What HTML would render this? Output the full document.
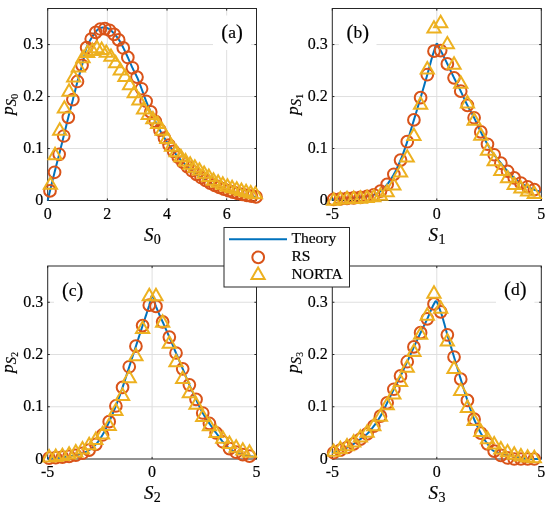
<!DOCTYPE html>
<html><head><meta charset="utf-8"><style>
html,body{margin:0;padding:0;background:#fff;width:550px;height:509px;overflow:hidden;}
svg{display:block;font-family:"Liberation Serif",serif;will-change:transform;}
text{stroke:#000;stroke-width:0.18px;paint-order:stroke;}
</style></head><body>
<svg width="550" height="509" viewBox="0 0 550 509" font-family="Liberation Serif, serif" fill="#000"><line x1="107.36" y1="8.5" x2="107.36" y2="200.5" stroke="#dfdfdf" stroke-width="1"/>
<line x1="167.01" y1="8.5" x2="167.01" y2="200.5" stroke="#dfdfdf" stroke-width="1"/>
<line x1="226.67" y1="8.5" x2="226.67" y2="200.5" stroke="#dfdfdf" stroke-width="1"/>
<line x1="47.7" y1="148.52" x2="256.5" y2="148.52" stroke="#dfdfdf" stroke-width="1"/>
<line x1="47.7" y1="96.55" x2="256.5" y2="96.55" stroke="#dfdfdf" stroke-width="1"/>
<line x1="47.7" y1="44.57" x2="256.5" y2="44.57" stroke="#dfdfdf" stroke-width="1"/>
<line x1="47.70" y1="200.5" x2="47.70" y2="198.4" stroke="#262626" stroke-width="1"/>
<line x1="47.70" y1="8.5" x2="47.70" y2="10.6" stroke="#262626" stroke-width="1"/>
<line x1="107.36" y1="200.5" x2="107.36" y2="198.4" stroke="#262626" stroke-width="1"/>
<line x1="107.36" y1="8.5" x2="107.36" y2="10.6" stroke="#262626" stroke-width="1"/>
<line x1="167.01" y1="200.5" x2="167.01" y2="198.4" stroke="#262626" stroke-width="1"/>
<line x1="167.01" y1="8.5" x2="167.01" y2="10.6" stroke="#262626" stroke-width="1"/>
<line x1="226.67" y1="200.5" x2="226.67" y2="198.4" stroke="#262626" stroke-width="1"/>
<line x1="226.67" y1="8.5" x2="226.67" y2="10.6" stroke="#262626" stroke-width="1"/>
<line x1="47.7" y1="200.50" x2="49.800000000000004" y2="200.50" stroke="#262626" stroke-width="1"/>
<line x1="256.5" y1="200.50" x2="254.4" y2="200.50" stroke="#262626" stroke-width="1"/>
<line x1="47.7" y1="148.52" x2="49.800000000000004" y2="148.52" stroke="#262626" stroke-width="1"/>
<line x1="256.5" y1="148.52" x2="254.4" y2="148.52" stroke="#262626" stroke-width="1"/>
<line x1="47.7" y1="96.55" x2="49.800000000000004" y2="96.55" stroke="#262626" stroke-width="1"/>
<line x1="256.5" y1="96.55" x2="254.4" y2="96.55" stroke="#262626" stroke-width="1"/>
<line x1="47.7" y1="44.57" x2="49.800000000000004" y2="44.57" stroke="#262626" stroke-width="1"/>
<line x1="256.5" y1="44.57" x2="254.4" y2="44.57" stroke="#262626" stroke-width="1"/>
<rect x="47.7" y="8.5" width="208.80" height="192.00" fill="none" stroke="#262626" stroke-width="1"/>
<path d="M47.70,200.50L48.22,198.29L48.75,196.09L49.27,193.90L49.79,191.73L50.32,189.56L50.84,187.41L51.36,185.26L51.89,183.13L52.41,181.00L52.93,178.87L53.46,176.76L53.98,174.65L54.50,172.56L55.03,170.48L55.55,168.41L56.07,166.36L56.60,164.31L57.12,162.27L57.64,160.23L58.17,158.18L58.69,156.13L59.21,154.06L59.74,151.99L60.26,149.91L60.78,147.82L61.31,145.73L61.83,143.64L62.35,141.54L62.88,139.44L63.40,137.33L63.92,135.22L64.45,133.09L64.97,130.95L65.49,128.80L66.02,126.65L66.54,124.51L67.06,122.37L67.59,120.25L68.11,118.14L68.63,116.07L69.16,114.02L69.68,111.99L70.20,109.97L70.73,107.96L71.25,105.96L71.77,103.95L72.30,101.92L72.82,99.89L73.34,97.82L73.87,95.73L74.39,93.63L74.91,91.51L75.44,89.41L75.96,87.32L76.48,85.25L77.01,83.23L77.53,81.25L78.05,79.34L78.58,77.48L79.10,75.65L79.62,73.85L80.15,72.05L80.67,70.24L81.19,68.40L81.72,66.53L82.24,64.58L82.76,62.49L83.28,60.28L83.81,58.01L84.33,55.74L84.85,53.55L85.38,51.48L85.90,49.60L86.42,47.98L86.95,46.62L87.47,45.40L87.99,44.28L88.52,43.24L89.04,42.27L89.56,41.34L90.09,40.45L90.61,39.57L91.13,38.69L91.66,37.79L92.18,36.89L92.70,36.00L93.23,35.13L93.75,34.29L94.27,33.50L94.80,32.76L95.32,32.10L95.84,31.51L96.37,30.96L96.89,30.41L97.41,29.88L97.94,29.39L98.46,28.94L98.98,28.55L99.51,28.24L100.03,28.02L100.55,27.90L101.08,27.80L101.60,27.71L102.12,27.63L102.65,27.56L103.17,27.51L103.69,27.46L104.22,27.43L104.74,27.42L105.26,27.43L105.79,27.51L106.31,27.64L106.83,27.82L107.36,28.05L107.88,28.30L108.40,28.58L108.93,28.86L109.45,29.16L109.97,29.48L110.50,29.88L111.02,30.33L111.54,30.84L112.07,31.39L112.59,31.97L113.11,32.55L113.64,33.14L114.16,33.72L114.68,34.30L115.21,34.90L115.73,35.51L116.25,36.14L116.78,36.79L117.30,37.47L117.82,38.18L118.35,38.91L118.87,39.69L119.39,40.51L119.92,41.39L120.44,42.31L120.96,43.27L121.49,44.25L122.01,45.26L122.53,46.27L123.06,47.30L123.58,48.33L124.10,49.39L124.63,50.47L125.15,51.58L125.67,52.71L126.20,53.84L126.72,54.99L127.24,56.14L127.77,57.29L128.29,58.45L128.81,59.64L129.34,60.84L129.86,62.05L130.38,63.25L130.91,64.46L131.43,65.64L131.95,66.81L132.48,67.94L133.00,69.03L133.52,70.08L134.05,71.10L134.57,72.11L135.09,73.13L135.62,74.16L136.14,75.22L136.66,76.32L137.19,77.47L137.71,78.69L138.23,79.97L138.76,81.29L139.28,82.65L139.80,84.03L140.33,85.43L140.85,86.83L141.37,88.23L141.90,89.62L142.42,91.05L142.94,92.51L143.47,93.98L143.99,95.44L144.51,96.90L145.04,98.33L145.56,99.71L146.08,101.04L146.61,102.33L147.13,103.60L147.65,104.85L148.18,106.09L148.70,107.31L149.22,108.51L149.75,109.70L150.27,110.87L150.79,112.03L151.32,113.18L151.84,114.30L152.36,115.42L152.88,116.52L153.41,117.60L153.93,118.67L154.45,119.73L154.98,120.77L155.50,121.80L156.02,122.82L156.55,123.84L157.07,124.85L157.59,125.85L158.12,126.84L158.64,127.82L159.16,128.79L159.69,129.76L160.21,130.71L160.73,131.65L161.26,132.59L161.78,133.51L162.30,134.42L162.83,135.31L163.35,136.20L163.87,137.07L164.40,137.93L164.92,138.78L165.44,139.61L165.97,140.43L166.49,141.24L167.01,142.03L167.54,142.81L168.06,143.58L168.58,144.34L169.11,145.10L169.63,145.85L170.15,146.60L170.68,147.33L171.20,148.06L171.72,148.78L172.25,149.49L172.77,150.20L173.29,150.90L173.82,151.59L174.34,152.27L174.86,152.94L175.39,153.61L175.91,154.26L176.43,154.91L176.96,155.55L177.48,156.19L178.00,156.81L178.53,157.42L179.05,158.03L179.57,158.63L180.10,159.22L180.62,159.80L181.14,160.37L181.67,160.93L182.19,161.48L182.71,162.03L183.24,162.57L183.76,163.10L184.28,163.63L184.81,164.16L185.33,164.67L185.85,165.19L186.38,165.69L186.90,166.19L187.42,166.69L187.95,167.17L188.47,167.66L188.99,168.13L189.52,168.60L190.04,169.07L190.56,169.53L191.09,169.98L191.61,170.43L192.13,170.87L192.66,171.30L193.18,171.73L193.70,172.15L194.23,172.57L194.75,172.98L195.27,173.39L195.80,173.78L196.32,174.18L196.84,174.56L197.37,174.95L197.89,175.32L198.41,175.70L198.94,176.07L199.46,176.43L199.98,176.79L200.51,177.15L201.03,177.50L201.55,177.85L202.08,178.20L202.60,178.54L203.12,178.88L203.65,179.21L204.17,179.54L204.69,179.86L205.22,180.18L205.74,180.50L206.26,180.81L206.79,181.12L207.31,181.42L207.83,181.72L208.36,182.01L208.88,182.30L209.40,182.59L209.93,182.87L210.45,183.14L210.97,183.42L211.50,183.68L212.02,183.95L212.54,184.21L213.07,184.46L213.59,184.72L214.11,184.97L214.64,185.22L215.16,185.46L215.68,185.71L216.21,185.95L216.73,186.18L217.25,186.42L217.78,186.65L218.30,186.88L218.82,187.10L219.35,187.33L219.87,187.54L220.39,187.76L220.92,187.97L221.44,188.18L221.96,188.39L222.48,188.59L223.01,188.79L223.53,188.99L224.05,189.18L224.58,189.38L225.10,189.56L225.62,189.75L226.15,189.93L226.67,190.10L227.19,190.28L227.72,190.45L228.24,190.62L228.76,190.79L229.29,190.96L229.81,191.12L230.33,191.28L230.86,191.45L231.38,191.60L231.90,191.76L232.43,191.91L232.95,192.07L233.47,192.22L234.00,192.36L234.52,192.51L235.04,192.65L235.57,192.79L236.09,192.93L236.61,193.07L237.14,193.21L237.66,193.34L238.18,193.47L238.71,193.60L239.23,193.72L239.75,193.85L240.28,193.97L240.80,194.09L241.32,194.21L241.85,194.32L242.37,194.43L242.89,194.55L243.42,194.66L243.94,194.77L244.46,194.88L244.99,194.99L245.51,195.09L246.03,195.20L246.56,195.30L247.08,195.41L247.60,195.51L248.13,195.61L248.65,195.70L249.17,195.80L249.70,195.90L250.22,195.99L250.74,196.08L251.27,196.17L251.79,196.26L252.31,196.35L252.84,196.43L253.36,196.51L253.88,196.59L254.41,196.67L254.93,196.75L255.45,196.82L255.98,196.90L256.50,196.97" fill="none" stroke="#0072bd" stroke-width="2" stroke-linejoin="round"/>
<circle cx="50.00" cy="190.88" r="5.85" fill="none" stroke="#d95319" stroke-width="2.0"/>
<circle cx="54.58" cy="172.28" r="5.85" fill="none" stroke="#d95319" stroke-width="2.0"/>
<circle cx="59.15" cy="154.29" r="5.85" fill="none" stroke="#d95319" stroke-width="2.0"/>
<circle cx="63.73" cy="136.00" r="5.85" fill="none" stroke="#d95319" stroke-width="2.0"/>
<circle cx="68.31" cy="117.34" r="5.85" fill="none" stroke="#d95319" stroke-width="2.0"/>
<circle cx="72.89" cy="99.61" r="5.85" fill="none" stroke="#d95319" stroke-width="2.0"/>
<circle cx="77.47" cy="81.47" r="5.85" fill="none" stroke="#d95319" stroke-width="2.0"/>
<circle cx="82.05" cy="65.31" r="5.85" fill="none" stroke="#d95319" stroke-width="2.0"/>
<circle cx="86.63" cy="47.69" r="5.85" fill="none" stroke="#d95319" stroke-width="2.0"/>
<circle cx="91.20" cy="39.11" r="5.85" fill="none" stroke="#d95319" stroke-width="2.0"/>
<circle cx="95.78" cy="32.36" r="5.85" fill="none" stroke="#d95319" stroke-width="2.0"/>
<circle cx="100.36" cy="28.98" r="5.85" fill="none" stroke="#d95319" stroke-width="2.0"/>
<circle cx="104.94" cy="28.72" r="5.85" fill="none" stroke="#d95319" stroke-width="2.0"/>
<circle cx="109.52" cy="30.23" r="5.85" fill="none" stroke="#d95319" stroke-width="2.0"/>
<circle cx="114.10" cy="34.44" r="5.85" fill="none" stroke="#d95319" stroke-width="2.0"/>
<circle cx="118.68" cy="39.89" r="5.85" fill="none" stroke="#d95319" stroke-width="2.0"/>
<circle cx="123.26" cy="47.95" r="5.85" fill="none" stroke="#d95319" stroke-width="2.0"/>
<circle cx="127.83" cy="57.46" r="5.85" fill="none" stroke="#d95319" stroke-width="2.0"/>
<circle cx="132.41" cy="67.80" r="5.85" fill="none" stroke="#d95319" stroke-width="2.0"/>
<circle cx="136.99" cy="77.06" r="5.85" fill="none" stroke="#d95319" stroke-width="2.0"/>
<circle cx="141.57" cy="88.75" r="5.85" fill="none" stroke="#d95319" stroke-width="2.0"/>
<circle cx="146.15" cy="101.23" r="5.85" fill="none" stroke="#d95319" stroke-width="2.0"/>
<circle cx="150.73" cy="111.88" r="5.85" fill="none" stroke="#d95319" stroke-width="2.0"/>
<circle cx="155.31" cy="121.39" r="5.85" fill="none" stroke="#d95319" stroke-width="2.0"/>
<circle cx="159.89" cy="130.12" r="5.85" fill="none" stroke="#d95319" stroke-width="2.0"/>
<circle cx="164.46" cy="138.02" r="5.85" fill="none" stroke="#d95319" stroke-width="2.0"/>
<circle cx="169.04" cy="144.99" r="5.85" fill="none" stroke="#d95319" stroke-width="2.0"/>
<circle cx="173.62" cy="151.33" r="5.85" fill="none" stroke="#d95319" stroke-width="2.0"/>
<circle cx="178.20" cy="157.05" r="5.85" fill="none" stroke="#d95319" stroke-width="2.0"/>
<circle cx="182.78" cy="162.09" r="5.85" fill="none" stroke="#d95319" stroke-width="2.0"/>
<circle cx="187.36" cy="166.61" r="5.85" fill="none" stroke="#d95319" stroke-width="2.0"/>
<circle cx="191.94" cy="170.72" r="5.85" fill="none" stroke="#d95319" stroke-width="2.0"/>
<circle cx="196.51" cy="174.30" r="5.85" fill="none" stroke="#d95319" stroke-width="2.0"/>
<circle cx="201.09" cy="177.53" r="5.85" fill="none" stroke="#d95319" stroke-width="2.0"/>
<circle cx="205.67" cy="180.44" r="5.85" fill="none" stroke="#d95319" stroke-width="2.0"/>
<circle cx="210.25" cy="183.04" r="5.85" fill="none" stroke="#d95319" stroke-width="2.0"/>
<circle cx="214.83" cy="185.32" r="5.85" fill="none" stroke="#d95319" stroke-width="2.0"/>
<circle cx="219.41" cy="187.35" r="5.85" fill="none" stroke="#d95319" stroke-width="2.0"/>
<circle cx="223.99" cy="189.17" r="5.85" fill="none" stroke="#d95319" stroke-width="2.0"/>
<circle cx="228.57" cy="190.73" r="5.85" fill="none" stroke="#d95319" stroke-width="2.0"/>
<circle cx="233.14" cy="192.13" r="5.85" fill="none" stroke="#d95319" stroke-width="2.0"/>
<circle cx="237.72" cy="193.38" r="5.85" fill="none" stroke="#d95319" stroke-width="2.0"/>
<circle cx="242.30" cy="194.42" r="5.85" fill="none" stroke="#d95319" stroke-width="2.0"/>
<circle cx="246.88" cy="195.35" r="5.85" fill="none" stroke="#d95319" stroke-width="2.0"/>
<circle cx="251.46" cy="196.19" r="5.85" fill="none" stroke="#d95319" stroke-width="2.0"/>
<circle cx="256.04" cy="196.91" r="5.85" fill="none" stroke="#d95319" stroke-width="2.0"/>
<path d="M50.40,177.42L57.00,188.86L43.80,188.86Z" fill="none" stroke="#edb120" stroke-width="2.0" stroke-linejoin="miter"/>
<path d="M55.06,147.69L61.66,159.13L48.46,159.13Z" fill="none" stroke="#edb120" stroke-width="2.0" stroke-linejoin="miter"/>
<path d="M59.72,123.32L66.32,134.75L53.12,134.75Z" fill="none" stroke="#edb120" stroke-width="2.0" stroke-linejoin="miter"/>
<path d="M64.38,101.18L70.98,112.61L57.78,112.61Z" fill="none" stroke="#edb120" stroke-width="2.0" stroke-linejoin="miter"/>
<path d="M69.04,84.34L75.64,95.77L62.44,95.77Z" fill="none" stroke="#edb120" stroke-width="2.0" stroke-linejoin="miter"/>
<path d="M73.70,70.09L80.30,81.52L67.10,81.52Z" fill="none" stroke="#edb120" stroke-width="2.0" stroke-linejoin="miter"/>
<path d="M78.35,60.17L84.95,71.60L71.75,71.60Z" fill="none" stroke="#edb120" stroke-width="2.0" stroke-linejoin="miter"/>
<path d="M83.01,50.81L89.61,62.24L76.41,62.24Z" fill="none" stroke="#edb120" stroke-width="2.0" stroke-linejoin="miter"/>
<path d="M87.67,45.61L94.27,57.04L81.07,57.04Z" fill="none" stroke="#edb120" stroke-width="2.0" stroke-linejoin="miter"/>
<path d="M92.33,43.53L98.93,54.96L85.73,54.96Z" fill="none" stroke="#edb120" stroke-width="2.0" stroke-linejoin="miter"/>
<path d="M96.99,40.93L103.59,52.37L90.39,52.37Z" fill="none" stroke="#edb120" stroke-width="2.0" stroke-linejoin="miter"/>
<path d="M101.65,42.49L108.25,53.93L95.05,53.93Z" fill="none" stroke="#edb120" stroke-width="2.0" stroke-linejoin="miter"/>
<path d="M106.31,45.40L112.91,56.84L99.71,56.84Z" fill="none" stroke="#edb120" stroke-width="2.0" stroke-linejoin="miter"/>
<path d="M110.97,49.41L117.57,60.84L104.37,60.84Z" fill="none" stroke="#edb120" stroke-width="2.0" stroke-linejoin="miter"/>
<path d="M115.63,55.90L122.23,67.34L109.03,67.34Z" fill="none" stroke="#edb120" stroke-width="2.0" stroke-linejoin="miter"/>
<path d="M120.29,63.13L126.89,74.56L113.69,74.56Z" fill="none" stroke="#edb120" stroke-width="2.0" stroke-linejoin="miter"/>
<path d="M124.95,69.52L131.55,80.95L118.35,80.95Z" fill="none" stroke="#edb120" stroke-width="2.0" stroke-linejoin="miter"/>
<path d="M129.61,77.84L136.21,89.27L123.01,89.27Z" fill="none" stroke="#edb120" stroke-width="2.0" stroke-linejoin="miter"/>
<path d="M134.27,85.74L140.87,97.17L127.67,97.17Z" fill="none" stroke="#edb120" stroke-width="2.0" stroke-linejoin="miter"/>
<path d="M138.92,93.07L145.52,104.50L132.32,104.50Z" fill="none" stroke="#edb120" stroke-width="2.0" stroke-linejoin="miter"/>
<path d="M143.58,102.16L150.18,113.59L136.98,113.59Z" fill="none" stroke="#edb120" stroke-width="2.0" stroke-linejoin="miter"/>
<path d="M148.24,107.62L154.84,119.05L141.64,119.05Z" fill="none" stroke="#edb120" stroke-width="2.0" stroke-linejoin="miter"/>
<path d="M152.90,111.88L159.50,123.31L146.30,123.31Z" fill="none" stroke="#edb120" stroke-width="2.0" stroke-linejoin="miter"/>
<path d="M157.56,116.61L164.16,128.04L150.96,128.04Z" fill="none" stroke="#edb120" stroke-width="2.0" stroke-linejoin="miter"/>
<path d="M162.22,123.32L168.82,134.75L155.62,134.75Z" fill="none" stroke="#edb120" stroke-width="2.0" stroke-linejoin="miter"/>
<path d="M166.88,131.58L173.48,143.01L160.28,143.01Z" fill="none" stroke="#edb120" stroke-width="2.0" stroke-linejoin="miter"/>
<path d="M171.54,139.22L178.14,150.65L164.94,150.65Z" fill="none" stroke="#edb120" stroke-width="2.0" stroke-linejoin="miter"/>
<path d="M176.20,144.94L182.80,156.37L169.60,156.37Z" fill="none" stroke="#edb120" stroke-width="2.0" stroke-linejoin="miter"/>
<path d="M180.86,149.83L187.46,161.26L174.26,161.26Z" fill="none" stroke="#edb120" stroke-width="2.0" stroke-linejoin="miter"/>
<path d="M185.52,153.98L192.12,165.41L178.92,165.41Z" fill="none" stroke="#edb120" stroke-width="2.0" stroke-linejoin="miter"/>
<path d="M190.18,157.36L196.78,168.79L183.58,168.79Z" fill="none" stroke="#edb120" stroke-width="2.0" stroke-linejoin="miter"/>
<path d="M194.84,160.22L201.44,171.65L188.24,171.65Z" fill="none" stroke="#edb120" stroke-width="2.0" stroke-linejoin="miter"/>
<path d="M199.49,163.13L206.09,174.56L192.89,174.56Z" fill="none" stroke="#edb120" stroke-width="2.0" stroke-linejoin="miter"/>
<path d="M204.15,166.41L210.75,177.84L197.55,177.84Z" fill="none" stroke="#edb120" stroke-width="2.0" stroke-linejoin="miter"/>
<path d="M208.81,169.52L215.41,180.96L202.21,180.96Z" fill="none" stroke="#edb120" stroke-width="2.0" stroke-linejoin="miter"/>
<path d="M213.47,173.21L220.07,184.65L206.87,184.65Z" fill="none" stroke="#edb120" stroke-width="2.0" stroke-linejoin="miter"/>
<path d="M218.13,175.29L224.73,186.72L211.53,186.72Z" fill="none" stroke="#edb120" stroke-width="2.0" stroke-linejoin="miter"/>
<path d="M222.79,177.37L229.39,188.80L216.19,188.80Z" fill="none" stroke="#edb120" stroke-width="2.0" stroke-linejoin="miter"/>
<path d="M227.45,179.35L234.05,190.78L220.85,190.78Z" fill="none" stroke="#edb120" stroke-width="2.0" stroke-linejoin="miter"/>
<path d="M232.11,180.75L238.71,192.18L225.51,192.18Z" fill="none" stroke="#edb120" stroke-width="2.0" stroke-linejoin="miter"/>
<path d="M236.77,182.15L243.37,193.59L230.17,193.59Z" fill="none" stroke="#edb120" stroke-width="2.0" stroke-linejoin="miter"/>
<path d="M241.43,183.51L248.03,194.94L234.83,194.94Z" fill="none" stroke="#edb120" stroke-width="2.0" stroke-linejoin="miter"/>
<path d="M246.09,184.80L252.69,196.24L239.49,196.24Z" fill="none" stroke="#edb120" stroke-width="2.0" stroke-linejoin="miter"/>
<path d="M250.75,186.05L257.35,197.48L244.15,197.48Z" fill="none" stroke="#edb120" stroke-width="2.0" stroke-linejoin="miter"/>
<path d="M255.41,186.88L262.01,198.32L248.81,198.32Z" fill="none" stroke="#edb120" stroke-width="2.0" stroke-linejoin="miter"/>
<text x="47.70" y="218.70" font-size="16" text-anchor="middle">0</text>
<text x="107.36" y="218.70" font-size="16" text-anchor="middle">2</text>
<text x="167.01" y="218.70" font-size="16" text-anchor="middle">4</text>
<text x="226.67" y="218.70" font-size="16" text-anchor="middle">6</text>
<text x="43.20" y="205.00" font-size="16" text-anchor="end">0</text>
<text x="43.20" y="153.02" font-size="16" text-anchor="end">0.1</text>
<text x="43.20" y="101.05" font-size="16" text-anchor="end">0.2</text>
<text x="43.20" y="49.07" font-size="16" text-anchor="end">0.3</text>
<text x="143.90" y="240.50" font-size="19"><tspan font-style="italic">S</tspan><tspan font-size="14" dx="0.4" dy="3">0</tspan></text>
<text transform="translate(13.40,115.00) rotate(-90)" font-size="17.5"><tspan font-style="italic">p</tspan><tspan font-style="italic" font-size="14.5" dy="2.5">S</tspan><tspan font-size="9.5" dx="0.2" dy="2.3">0</tspan></text>
<line x1="436.80" y1="8.5" x2="436.80" y2="200.5" stroke="#dfdfdf" stroke-width="1"/>
<line x1="332.3" y1="148.52" x2="541.3" y2="148.52" stroke="#dfdfdf" stroke-width="1"/>
<line x1="332.3" y1="96.55" x2="541.3" y2="96.55" stroke="#dfdfdf" stroke-width="1"/>
<line x1="332.3" y1="44.57" x2="541.3" y2="44.57" stroke="#dfdfdf" stroke-width="1"/>
<line x1="332.30" y1="200.5" x2="332.30" y2="198.4" stroke="#262626" stroke-width="1"/>
<line x1="332.30" y1="8.5" x2="332.30" y2="10.6" stroke="#262626" stroke-width="1"/>
<line x1="436.80" y1="200.5" x2="436.80" y2="198.4" stroke="#262626" stroke-width="1"/>
<line x1="436.80" y1="8.5" x2="436.80" y2="10.6" stroke="#262626" stroke-width="1"/>
<line x1="541.30" y1="200.5" x2="541.30" y2="198.4" stroke="#262626" stroke-width="1"/>
<line x1="541.30" y1="8.5" x2="541.30" y2="10.6" stroke="#262626" stroke-width="1"/>
<line x1="332.3" y1="200.50" x2="334.40000000000003" y2="200.50" stroke="#262626" stroke-width="1"/>
<line x1="541.3" y1="200.50" x2="539.1999999999999" y2="200.50" stroke="#262626" stroke-width="1"/>
<line x1="332.3" y1="148.52" x2="334.40000000000003" y2="148.52" stroke="#262626" stroke-width="1"/>
<line x1="541.3" y1="148.52" x2="539.1999999999999" y2="148.52" stroke="#262626" stroke-width="1"/>
<line x1="332.3" y1="96.55" x2="334.40000000000003" y2="96.55" stroke="#262626" stroke-width="1"/>
<line x1="541.3" y1="96.55" x2="539.1999999999999" y2="96.55" stroke="#262626" stroke-width="1"/>
<line x1="332.3" y1="44.57" x2="334.40000000000003" y2="44.57" stroke="#262626" stroke-width="1"/>
<line x1="541.3" y1="44.57" x2="539.1999999999999" y2="44.57" stroke="#262626" stroke-width="1"/>
<rect x="332.3" y="8.5" width="209.00" height="192.00" fill="none" stroke="#262626" stroke-width="1"/>
<path d="M332.30,199.56L332.82,199.52L333.35,199.48L333.87,199.44L334.40,199.40L334.92,199.36L335.44,199.32L335.97,199.28L336.49,199.24L337.01,199.20L337.54,199.16L338.06,199.12L338.59,199.08L339.11,199.04L339.63,199.00L340.16,198.96L340.68,198.91L341.20,198.87L341.73,198.83L342.25,198.79L342.78,198.75L343.30,198.71L343.82,198.67L344.35,198.63L344.87,198.59L345.40,198.55L345.92,198.51L346.44,198.47L346.97,198.43L347.49,198.39L348.01,198.34L348.54,198.30L349.06,198.26L349.59,198.22L350.11,198.18L350.63,198.14L351.16,198.10L351.68,198.06L352.20,198.02L352.73,197.98L353.25,197.94L353.78,197.90L354.30,197.86L354.82,197.82L355.35,197.78L355.87,197.75L356.40,197.71L356.92,197.67L357.44,197.64L357.97,197.60L358.49,197.56L359.01,197.51L359.54,197.47L360.06,197.42L360.59,197.36L361.11,197.30L361.63,197.24L362.16,197.17L362.68,197.10L363.20,197.02L363.73,196.94L364.25,196.85L364.78,196.76L365.30,196.67L365.82,196.58L366.35,196.48L366.87,196.38L367.40,196.29L367.92,196.19L368.44,196.09L368.97,195.99L369.49,195.88L370.01,195.77L370.54,195.66L371.06,195.54L371.59,195.41L372.11,195.28L372.63,195.13L373.16,194.98L373.68,194.82L374.20,194.64L374.73,194.44L375.25,194.22L375.78,193.98L376.30,193.72L376.82,193.45L377.35,193.16L377.87,192.85L378.40,192.53L378.92,192.20L379.44,191.86L379.97,191.50L380.49,191.13L381.01,190.75L381.54,190.33L382.06,189.88L382.59,189.40L383.11,188.90L383.63,188.38L384.16,187.83L384.68,187.27L385.20,186.68L385.73,186.09L386.25,185.47L386.78,184.85L387.30,184.22L387.82,183.57L388.35,182.88L388.87,182.18L389.40,181.44L389.92,180.69L390.44,179.90L390.97,179.10L391.49,178.27L392.01,177.43L392.54,176.56L393.06,175.67L393.59,174.77L394.11,173.84L394.63,172.88L395.16,171.89L395.68,170.87L396.20,169.81L396.73,168.73L397.25,167.61L397.78,166.48L398.30,165.31L398.82,164.13L399.35,162.92L399.87,161.70L400.40,160.46L400.92,159.19L401.44,157.89L401.97,156.55L402.49,155.19L403.01,153.79L403.54,152.36L404.06,150.90L404.59,149.43L405.11,147.93L405.63,146.41L406.16,144.88L406.68,143.34L407.20,141.78L407.73,140.20L408.25,138.58L408.78,136.93L409.30,135.25L409.82,133.55L410.35,131.82L410.87,130.09L411.40,128.34L411.92,126.59L412.44,124.83L412.97,123.08L413.49,121.34L414.01,119.61L414.54,117.88L415.06,116.15L415.59,114.42L416.11,112.68L416.63,110.94L417.16,109.20L417.68,107.45L418.20,105.70L418.73,103.95L419.25,102.19L419.78,100.43L420.30,98.66L420.82,96.89L421.35,95.12L421.87,93.34L422.40,91.56L422.92,89.77L423.44,87.98L423.97,86.19L424.49,84.39L425.01,82.59L425.54,80.78L426.06,78.97L426.59,77.16L427.11,75.35L427.63,73.52L428.16,71.64L428.68,69.73L429.20,67.80L429.73,65.85L430.25,63.91L430.78,61.98L431.30,60.08L431.82,58.21L432.35,56.39L432.87,54.63L433.40,52.95L433.92,51.35L434.44,49.68L434.97,47.86L435.49,46.13L436.01,44.73L436.54,43.91L437.06,43.85L437.59,44.28L438.11,45.05L438.63,46.06L439.16,47.22L439.68,48.44L440.20,49.62L440.73,50.66L441.25,51.65L441.78,52.65L442.30,53.66L442.82,54.70L443.35,55.74L443.87,56.79L444.40,57.85L444.92,58.92L445.44,59.99L445.97,61.07L446.49,62.14L447.01,63.21L447.54,64.28L448.06,65.36L448.59,66.44L449.11,67.54L449.63,68.63L450.16,69.73L450.68,70.83L451.20,71.94L451.73,73.04L452.25,74.13L452.78,75.23L453.30,76.31L453.82,77.39L454.35,78.46L454.87,79.51L455.40,80.56L455.92,81.60L456.44,82.64L456.97,83.67L457.49,84.70L458.01,85.74L458.54,86.78L459.06,87.82L459.59,88.87L460.11,89.93L460.63,90.99L461.16,92.08L461.68,93.18L462.20,94.30L462.73,95.43L463.25,96.57L463.78,97.71L464.30,98.85L464.82,99.98L465.35,101.11L465.87,102.22L466.40,103.31L466.92,104.38L467.44,105.43L467.97,106.45L468.49,107.44L469.01,108.42L469.54,109.37L470.06,110.32L470.59,111.26L471.11,112.19L471.63,113.13L472.16,114.08L472.68,115.04L473.20,116.02L473.73,117.02L474.25,118.04L474.78,119.10L475.30,120.19L475.82,121.30L476.35,122.42L476.87,123.56L477.40,124.70L477.92,125.85L478.44,126.98L478.97,128.11L479.49,129.23L480.01,130.32L480.54,131.38L481.06,132.42L481.59,133.44L482.11,134.46L482.63,135.47L483.16,136.47L483.68,137.45L484.20,138.43L484.73,139.39L485.25,140.35L485.78,141.29L486.30,142.22L486.82,143.13L487.35,144.03L487.87,144.92L488.40,145.80L488.92,146.67L489.44,147.54L489.97,148.39L490.49,149.23L491.01,150.06L491.54,150.88L492.06,151.68L492.59,152.47L493.11,153.25L493.63,154.00L494.16,154.74L494.68,155.46L495.20,156.16L495.73,156.85L496.25,157.51L496.78,158.17L497.30,158.82L497.82,159.46L498.35,160.09L498.87,160.72L499.40,161.35L499.92,161.98L500.44,162.62L500.97,163.26L501.49,163.91L502.01,164.57L502.54,165.22L503.06,165.88L503.59,166.53L504.11,167.18L504.63,167.83L505.16,168.47L505.68,169.10L506.20,169.72L506.73,170.32L507.25,170.91L507.78,171.49L508.30,172.05L508.82,172.62L509.35,173.17L509.87,173.71L510.40,174.25L510.92,174.78L511.44,175.30L511.97,175.81L512.49,176.31L513.01,176.80L513.54,177.28L514.06,177.74L514.59,178.19L515.11,178.64L515.63,179.08L516.16,179.52L516.68,179.94L517.20,180.36L517.73,180.77L518.25,181.17L518.78,181.56L519.30,181.93L519.82,182.30L520.35,182.66L520.87,183.00L521.40,183.34L521.92,183.66L522.44,183.97L522.97,184.28L523.49,184.58L524.01,184.87L524.54,185.15L525.06,185.43L525.59,185.71L526.11,185.98L526.63,186.24L527.16,186.50L527.68,186.76L528.20,187.02L528.73,187.27L529.25,187.52L529.78,187.77L530.30,188.01L530.82,188.25L531.35,188.48L531.87,188.71L532.40,188.93L532.92,189.15L533.44,189.36L533.97,189.56L534.49,189.76L535.01,189.95L535.54,190.14L536.06,190.32L536.59,190.51L537.11,190.68L537.63,190.85L538.16,191.02L538.68,191.18L539.20,191.34L539.73,191.50L540.25,191.64L540.78,191.79L541.30,191.92" fill="none" stroke="#0072bd" stroke-width="2" stroke-linejoin="round"/>
<circle cx="333.66" cy="199.46" r="5.85" fill="none" stroke="#d95319" stroke-width="2.0"/>
<circle cx="340.35" cy="198.94" r="5.85" fill="none" stroke="#d95319" stroke-width="2.0"/>
<circle cx="347.03" cy="198.42" r="5.85" fill="none" stroke="#d95319" stroke-width="2.0"/>
<circle cx="353.72" cy="197.90" r="5.85" fill="none" stroke="#d95319" stroke-width="2.0"/>
<circle cx="360.41" cy="197.38" r="5.85" fill="none" stroke="#d95319" stroke-width="2.0"/>
<circle cx="367.10" cy="196.34" r="5.85" fill="none" stroke="#d95319" stroke-width="2.0"/>
<circle cx="373.79" cy="194.78" r="5.85" fill="none" stroke="#d95319" stroke-width="2.0"/>
<circle cx="380.47" cy="191.14" r="5.85" fill="none" stroke="#d95319" stroke-width="2.0"/>
<circle cx="387.16" cy="184.39" r="5.85" fill="none" stroke="#d95319" stroke-width="2.0"/>
<circle cx="393.85" cy="174.30" r="5.85" fill="none" stroke="#d95319" stroke-width="2.0"/>
<circle cx="400.54" cy="160.11" r="5.85" fill="none" stroke="#d95319" stroke-width="2.0"/>
<circle cx="407.23" cy="141.71" r="5.85" fill="none" stroke="#d95319" stroke-width="2.0"/>
<circle cx="413.91" cy="119.94" r="5.85" fill="none" stroke="#d95319" stroke-width="2.0"/>
<circle cx="420.60" cy="97.64" r="5.85" fill="none" stroke="#d95319" stroke-width="2.0"/>
<circle cx="427.29" cy="74.72" r="5.85" fill="none" stroke="#d95319" stroke-width="2.0"/>
<circle cx="433.98" cy="51.17" r="5.85" fill="none" stroke="#d95319" stroke-width="2.0"/>
<circle cx="440.67" cy="50.55" r="5.85" fill="none" stroke="#d95319" stroke-width="2.0"/>
<circle cx="447.35" cy="63.91" r="5.85" fill="none" stroke="#d95319" stroke-width="2.0"/>
<circle cx="454.04" cy="77.84" r="5.85" fill="none" stroke="#d95319" stroke-width="2.0"/>
<circle cx="460.73" cy="91.19" r="5.85" fill="none" stroke="#d95319" stroke-width="2.0"/>
<circle cx="467.42" cy="105.38" r="5.85" fill="none" stroke="#d95319" stroke-width="2.0"/>
<circle cx="474.11" cy="117.75" r="5.85" fill="none" stroke="#d95319" stroke-width="2.0"/>
<circle cx="480.79" cy="131.89" r="5.85" fill="none" stroke="#d95319" stroke-width="2.0"/>
<circle cx="487.48" cy="144.26" r="5.85" fill="none" stroke="#d95319" stroke-width="2.0"/>
<circle cx="494.17" cy="154.76" r="5.85" fill="none" stroke="#d95319" stroke-width="2.0"/>
<circle cx="500.86" cy="163.13" r="5.85" fill="none" stroke="#d95319" stroke-width="2.0"/>
<circle cx="507.55" cy="171.24" r="5.85" fill="none" stroke="#d95319" stroke-width="2.0"/>
<circle cx="514.23" cy="177.89" r="5.85" fill="none" stroke="#d95319" stroke-width="2.0"/>
<circle cx="520.92" cy="183.04" r="5.85" fill="none" stroke="#d95319" stroke-width="2.0"/>
<circle cx="527.61" cy="186.73" r="5.85" fill="none" stroke="#d95319" stroke-width="2.0"/>
<circle cx="534.30" cy="189.69" r="5.85" fill="none" stroke="#d95319" stroke-width="2.0"/>
<path d="M333.66,193.23L340.26,204.66L327.06,204.66Z" fill="none" stroke="#edb120" stroke-width="2.0" stroke-linejoin="miter"/>
<path d="M340.35,192.08L346.95,203.51L333.75,203.51Z" fill="none" stroke="#edb120" stroke-width="2.0" stroke-linejoin="miter"/>
<path d="M347.03,191.72L353.63,203.15L340.43,203.15Z" fill="none" stroke="#edb120" stroke-width="2.0" stroke-linejoin="miter"/>
<path d="M353.72,191.51L360.32,202.94L347.12,202.94Z" fill="none" stroke="#edb120" stroke-width="2.0" stroke-linejoin="miter"/>
<path d="M360.41,191.30L367.01,202.73L353.81,202.73Z" fill="none" stroke="#edb120" stroke-width="2.0" stroke-linejoin="miter"/>
<path d="M367.10,190.63L373.70,202.06L360.50,202.06Z" fill="none" stroke="#edb120" stroke-width="2.0" stroke-linejoin="miter"/>
<path d="M373.79,189.90L380.39,201.33L367.19,201.33Z" fill="none" stroke="#edb120" stroke-width="2.0" stroke-linejoin="miter"/>
<path d="M380.47,188.24L387.07,199.67L373.87,199.67Z" fill="none" stroke="#edb120" stroke-width="2.0" stroke-linejoin="miter"/>
<path d="M387.16,184.91L393.76,196.34L380.56,196.34Z" fill="none" stroke="#edb120" stroke-width="2.0" stroke-linejoin="miter"/>
<path d="M393.85,178.15L400.45,189.58L387.25,189.58Z" fill="none" stroke="#edb120" stroke-width="2.0" stroke-linejoin="miter"/>
<path d="M400.54,165.16L407.14,176.59L393.94,176.59Z" fill="none" stroke="#edb120" stroke-width="2.0" stroke-linejoin="miter"/>
<path d="M407.23,150.19L413.83,161.62L400.63,161.62Z" fill="none" stroke="#edb120" stroke-width="2.0" stroke-linejoin="miter"/>
<path d="M413.91,128.46L420.51,139.89L407.31,139.89Z" fill="none" stroke="#edb120" stroke-width="2.0" stroke-linejoin="miter"/>
<path d="M420.60,97.33L427.20,108.76L414.00,108.76Z" fill="none" stroke="#edb120" stroke-width="2.0" stroke-linejoin="miter"/>
<path d="M427.29,61.99L433.89,73.42L420.69,73.42Z" fill="none" stroke="#edb120" stroke-width="2.0" stroke-linejoin="miter"/>
<path d="M433.98,21.18L440.58,32.62L427.38,32.62Z" fill="none" stroke="#edb120" stroke-width="2.0" stroke-linejoin="miter"/>
<path d="M440.67,15.73L447.27,27.16L434.07,27.16Z" fill="none" stroke="#edb120" stroke-width="2.0" stroke-linejoin="miter"/>
<path d="M447.35,36.93L453.95,48.36L440.75,48.36Z" fill="none" stroke="#edb120" stroke-width="2.0" stroke-linejoin="miter"/>
<path d="M454.04,57.36L460.64,68.79L447.44,68.79Z" fill="none" stroke="#edb120" stroke-width="2.0" stroke-linejoin="miter"/>
<path d="M460.73,76.23L467.33,87.66L454.13,87.66Z" fill="none" stroke="#edb120" stroke-width="2.0" stroke-linejoin="miter"/>
<path d="M467.42,96.03L474.02,107.46L460.82,107.46Z" fill="none" stroke="#edb120" stroke-width="2.0" stroke-linejoin="miter"/>
<path d="M474.11,113.34L480.71,124.77L467.51,124.77Z" fill="none" stroke="#edb120" stroke-width="2.0" stroke-linejoin="miter"/>
<path d="M480.79,128.36L487.39,139.79L474.19,139.79Z" fill="none" stroke="#edb120" stroke-width="2.0" stroke-linejoin="miter"/>
<path d="M487.48,143.38L494.08,154.81L480.88,154.81Z" fill="none" stroke="#edb120" stroke-width="2.0" stroke-linejoin="miter"/>
<path d="M494.17,153.72L500.77,165.15L487.57,165.15Z" fill="none" stroke="#edb120" stroke-width="2.0" stroke-linejoin="miter"/>
<path d="M500.86,163.60L507.46,175.03L494.26,175.03Z" fill="none" stroke="#edb120" stroke-width="2.0" stroke-linejoin="miter"/>
<path d="M507.55,170.88L514.15,182.31L500.95,182.31Z" fill="none" stroke="#edb120" stroke-width="2.0" stroke-linejoin="miter"/>
<path d="M514.23,177.48L520.83,188.91L507.63,188.91Z" fill="none" stroke="#edb120" stroke-width="2.0" stroke-linejoin="miter"/>
<path d="M520.92,181.17L527.52,192.60L514.32,192.60Z" fill="none" stroke="#edb120" stroke-width="2.0" stroke-linejoin="miter"/>
<path d="M527.61,184.08L534.21,195.51L521.01,195.51Z" fill="none" stroke="#edb120" stroke-width="2.0" stroke-linejoin="miter"/>
<path d="M534.30,186.57L540.90,198.00L527.70,198.00Z" fill="none" stroke="#edb120" stroke-width="2.0" stroke-linejoin="miter"/>
<text x="332.30" y="218.70" font-size="16" text-anchor="middle">-5</text>
<text x="436.80" y="218.70" font-size="16" text-anchor="middle">0</text>
<text x="541.30" y="218.70" font-size="16" text-anchor="middle">5</text>
<text x="327.80" y="205.00" font-size="16" text-anchor="end">0</text>
<text x="327.80" y="153.02" font-size="16" text-anchor="end">0.1</text>
<text x="327.80" y="101.05" font-size="16" text-anchor="end">0.2</text>
<text x="327.80" y="49.07" font-size="16" text-anchor="end">0.3</text>
<text x="428.60" y="240.50" font-size="19"><tspan font-style="italic">S</tspan><tspan font-size="14" dx="0.4" dy="3">1</tspan></text>
<text transform="translate(298.00,115.00) rotate(-90)" font-size="17.5"><tspan font-style="italic">p</tspan><tspan font-style="italic" font-size="14.5" dy="2.5">S</tspan><tspan font-size="9.5" dx="0.2" dy="2.3">1</tspan></text>
<line x1="152.10" y1="266.0" x2="152.10" y2="459.0" stroke="#dfdfdf" stroke-width="1"/>
<line x1="47.7" y1="406.75" x2="256.5" y2="406.75" stroke="#dfdfdf" stroke-width="1"/>
<line x1="47.7" y1="354.51" x2="256.5" y2="354.51" stroke="#dfdfdf" stroke-width="1"/>
<line x1="47.7" y1="302.26" x2="256.5" y2="302.26" stroke="#dfdfdf" stroke-width="1"/>
<line x1="47.70" y1="459.0" x2="47.70" y2="456.9" stroke="#262626" stroke-width="1"/>
<line x1="47.70" y1="266.0" x2="47.70" y2="268.1" stroke="#262626" stroke-width="1"/>
<line x1="152.10" y1="459.0" x2="152.10" y2="456.9" stroke="#262626" stroke-width="1"/>
<line x1="152.10" y1="266.0" x2="152.10" y2="268.1" stroke="#262626" stroke-width="1"/>
<line x1="256.50" y1="459.0" x2="256.50" y2="456.9" stroke="#262626" stroke-width="1"/>
<line x1="256.50" y1="266.0" x2="256.50" y2="268.1" stroke="#262626" stroke-width="1"/>
<line x1="47.7" y1="459.00" x2="49.800000000000004" y2="459.00" stroke="#262626" stroke-width="1"/>
<line x1="256.5" y1="459.00" x2="254.4" y2="459.00" stroke="#262626" stroke-width="1"/>
<line x1="47.7" y1="406.75" x2="49.800000000000004" y2="406.75" stroke="#262626" stroke-width="1"/>
<line x1="256.5" y1="406.75" x2="254.4" y2="406.75" stroke="#262626" stroke-width="1"/>
<line x1="47.7" y1="354.51" x2="49.800000000000004" y2="354.51" stroke="#262626" stroke-width="1"/>
<line x1="256.5" y1="354.51" x2="254.4" y2="354.51" stroke="#262626" stroke-width="1"/>
<line x1="47.7" y1="302.26" x2="49.800000000000004" y2="302.26" stroke="#262626" stroke-width="1"/>
<line x1="256.5" y1="302.26" x2="254.4" y2="302.26" stroke="#262626" stroke-width="1"/>
<rect x="47.7" y="266.0" width="208.80" height="193.00" fill="none" stroke="#262626" stroke-width="1"/>
<path d="M47.70,458.22L48.22,458.17L48.75,458.13L49.27,458.10L49.79,458.06L50.32,458.03L50.84,457.99L51.36,457.96L51.89,457.93L52.41,457.90L52.93,457.87L53.46,457.84L53.98,457.81L54.50,457.78L55.03,457.74L55.55,457.71L56.07,457.67L56.60,457.63L57.12,457.60L57.64,457.56L58.17,457.52L58.69,457.48L59.21,457.44L59.74,457.40L60.26,457.36L60.78,457.32L61.31,457.27L61.83,457.23L62.35,457.18L62.88,457.13L63.40,457.08L63.92,457.02L64.45,456.97L64.97,456.91L65.49,456.85L66.02,456.79L66.54,456.72L67.06,456.66L67.59,456.59L68.11,456.52L68.63,456.45L69.16,456.38L69.68,456.31L70.20,456.23L70.73,456.15L71.25,456.07L71.77,455.99L72.30,455.90L72.82,455.81L73.34,455.72L73.87,455.63L74.39,455.53L74.91,455.42L75.44,455.31L75.96,455.20L76.48,455.08L77.01,454.95L77.53,454.82L78.05,454.68L78.58,454.53L79.10,454.38L79.62,454.22L80.15,454.05L80.67,453.88L81.19,453.70L81.72,453.52L82.24,453.33L82.76,453.14L83.28,452.95L83.81,452.74L84.33,452.53L84.85,452.31L85.38,452.08L85.90,451.84L86.42,451.60L86.95,451.34L87.47,451.07L87.99,450.78L88.52,450.49L89.04,450.18L89.56,449.86L90.09,449.51L90.61,449.14L91.13,448.74L91.66,448.33L92.18,447.89L92.70,447.44L93.23,446.97L93.75,446.48L94.27,445.97L94.80,445.44L95.32,444.91L95.84,444.35L96.37,443.78L96.89,443.17L97.41,442.52L97.94,441.85L98.46,441.15L98.98,440.42L99.51,439.67L100.03,438.89L100.55,438.09L101.08,437.28L101.60,436.45L102.12,435.60L102.65,434.74L103.17,433.84L103.69,432.91L104.22,431.94L104.74,430.94L105.26,429.91L105.79,428.86L106.31,427.78L106.83,426.69L107.36,425.58L107.88,424.47L108.40,423.34L108.93,422.21L109.45,421.08L109.97,419.94L110.50,418.78L111.02,417.61L111.54,416.42L112.07,415.21L112.59,413.99L113.11,412.76L113.64,411.51L114.16,410.24L114.68,408.95L115.21,407.65L115.73,406.33L116.25,405.00L116.78,403.63L117.30,402.25L117.82,400.84L118.35,399.42L118.87,397.97L119.39,396.51L119.92,395.04L120.44,393.55L120.96,392.04L121.49,390.53L122.01,389.01L122.53,387.49L123.06,385.94L123.58,384.38L124.10,382.79L124.63,381.19L125.15,379.57L125.67,377.94L126.20,376.30L126.72,374.66L127.24,373.01L127.77,371.37L128.29,369.73L128.81,368.10L129.34,366.48L129.86,364.86L130.38,363.24L130.91,361.62L131.43,360.01L131.95,358.39L132.48,356.77L133.00,355.15L133.52,353.54L134.05,351.92L134.57,350.31L135.09,348.69L135.62,347.08L136.14,345.47L136.66,343.85L137.19,342.24L137.71,340.63L138.23,339.02L138.76,337.42L139.28,335.81L139.80,334.20L140.33,332.59L140.85,330.99L141.37,329.38L141.90,327.77L142.42,326.17L142.94,324.57L143.47,322.98L143.99,321.40L144.51,319.82L145.04,318.25L145.56,316.68L146.08,315.11L146.61,313.52L147.13,311.92L147.65,310.31L148.18,308.67L148.70,307.01L149.22,305.33L149.75,303.38L150.27,301.05L150.79,298.72L151.32,296.78L151.84,295.63L152.36,295.57L152.88,296.32L153.41,297.64L153.93,299.35L154.45,301.29L154.98,303.26L155.50,305.09L156.02,306.60L156.55,307.92L157.07,309.20L157.59,310.45L158.12,311.68L158.64,312.88L159.16,314.07L159.69,315.24L160.21,316.40L160.73,317.56L161.26,318.73L161.78,319.90L162.30,321.08L162.83,322.27L163.35,323.47L163.87,324.65L164.40,325.84L164.92,327.02L165.44,328.20L165.97,329.38L166.49,330.57L167.01,331.75L167.54,332.94L168.06,334.14L168.58,335.34L169.11,336.55L169.63,337.77L170.15,339.00L170.68,340.23L171.20,341.47L171.72,342.72L172.25,343.97L172.77,345.23L173.29,346.49L173.82,347.74L174.34,349.00L174.86,350.26L175.39,351.51L175.91,352.76L176.43,354.01L176.96,355.25L177.48,356.49L178.00,357.74L178.53,358.98L179.05,360.22L179.57,361.47L180.10,362.71L180.62,363.95L181.14,365.20L181.67,366.44L182.19,367.69L182.71,368.93L183.24,370.18L183.76,371.44L184.28,372.70L184.81,373.97L185.33,375.23L185.85,376.50L186.38,377.76L186.90,379.01L187.42,380.26L187.95,381.50L188.47,382.73L188.99,383.94L189.52,385.14L190.04,386.33L190.56,387.51L191.09,388.68L191.61,389.84L192.13,391.00L192.66,392.15L193.18,393.29L193.70,394.42L194.23,395.55L194.75,396.67L195.27,397.79L195.80,398.90L196.32,400.00L196.84,401.11L197.37,402.23L197.89,403.34L198.41,404.45L198.94,405.56L199.46,406.65L199.98,407.73L200.51,408.79L201.03,409.83L201.55,410.85L202.08,411.83L202.60,412.78L203.12,413.70L203.65,414.60L204.17,415.47L204.69,416.32L205.22,417.15L205.74,417.97L206.26,418.77L206.79,419.57L207.31,420.35L207.83,421.13L208.36,421.91L208.88,422.68L209.40,423.45L209.93,424.22L210.45,424.99L210.97,425.74L211.50,426.49L212.02,427.23L212.54,427.97L213.07,428.70L213.59,429.43L214.11,430.15L214.64,430.87L215.16,431.59L215.68,432.31L216.21,433.02L216.73,433.75L217.25,434.47L217.78,435.20L218.30,435.93L218.82,436.65L219.35,437.37L219.87,438.08L220.39,438.78L220.92,439.47L221.44,440.14L221.96,440.79L222.48,441.42L223.01,442.02L223.53,442.63L224.05,443.23L224.58,443.83L225.10,444.41L225.62,444.99L226.15,445.55L226.67,446.10L227.19,446.62L227.72,447.12L228.24,447.58L228.76,448.02L229.29,448.43L229.81,448.80L230.33,449.15L230.86,449.49L231.38,449.81L231.90,450.12L232.43,450.41L232.95,450.70L233.47,450.97L234.00,451.23L234.52,451.48L235.04,451.72L235.57,451.96L236.09,452.19L236.61,452.41L237.14,452.62L237.66,452.83L238.18,453.03L238.71,453.23L239.23,453.42L239.75,453.60L240.28,453.78L240.80,453.95L241.32,454.11L241.85,454.27L242.37,454.43L242.89,454.58L243.42,454.73L243.94,454.87L244.46,455.01L244.99,455.15L245.51,455.29L246.03,455.42L246.56,455.54L247.08,455.67L247.60,455.78L248.13,455.89L248.65,455.98L249.17,456.07L249.70,456.16L250.22,456.23L250.74,456.31L251.27,456.38L251.79,456.46L252.31,456.52L252.84,456.59L253.36,456.65L253.88,456.71L254.41,456.76L254.93,456.80L255.45,456.85L255.98,456.88L256.50,456.91" fill="none" stroke="#0072bd" stroke-width="2" stroke-linejoin="round"/>
<circle cx="49.06" cy="458.11" r="5.85" fill="none" stroke="#d95319" stroke-width="2.0"/>
<circle cx="55.74" cy="457.69" r="5.85" fill="none" stroke="#d95319" stroke-width="2.0"/>
<circle cx="62.42" cy="457.17" r="5.85" fill="none" stroke="#d95319" stroke-width="2.0"/>
<circle cx="69.10" cy="456.39" r="5.85" fill="none" stroke="#d95319" stroke-width="2.0"/>
<circle cx="75.78" cy="455.24" r="5.85" fill="none" stroke="#d95319" stroke-width="2.0"/>
<circle cx="82.47" cy="453.25" r="5.85" fill="none" stroke="#d95319" stroke-width="2.0"/>
<circle cx="89.15" cy="450.12" r="5.85" fill="none" stroke="#d95319" stroke-width="2.0"/>
<circle cx="95.83" cy="444.37" r="5.85" fill="none" stroke="#d95319" stroke-width="2.0"/>
<circle cx="102.51" cy="434.97" r="5.85" fill="none" stroke="#d95319" stroke-width="2.0"/>
<circle cx="109.19" cy="421.64" r="5.85" fill="none" stroke="#d95319" stroke-width="2.0"/>
<circle cx="115.87" cy="405.97" r="5.85" fill="none" stroke="#d95319" stroke-width="2.0"/>
<circle cx="122.55" cy="387.42" r="5.85" fill="none" stroke="#d95319" stroke-width="2.0"/>
<circle cx="129.24" cy="366.78" r="5.85" fill="none" stroke="#d95319" stroke-width="2.0"/>
<circle cx="135.92" cy="346.15" r="5.85" fill="none" stroke="#d95319" stroke-width="2.0"/>
<circle cx="142.60" cy="325.61" r="5.85" fill="none" stroke="#d95319" stroke-width="2.0"/>
<circle cx="149.28" cy="305.13" r="5.85" fill="none" stroke="#d95319" stroke-width="2.0"/>
<circle cx="155.96" cy="306.44" r="5.85" fill="none" stroke="#d95319" stroke-width="2.0"/>
<circle cx="162.64" cy="321.85" r="5.85" fill="none" stroke="#d95319" stroke-width="2.0"/>
<circle cx="169.33" cy="337.06" r="5.85" fill="none" stroke="#d95319" stroke-width="2.0"/>
<circle cx="176.01" cy="352.99" r="5.85" fill="none" stroke="#d95319" stroke-width="2.0"/>
<circle cx="182.69" cy="368.87" r="5.85" fill="none" stroke="#d95319" stroke-width="2.0"/>
<circle cx="189.37" cy="384.81" r="5.85" fill="none" stroke="#d95319" stroke-width="2.0"/>
<circle cx="196.05" cy="399.44" r="5.85" fill="none" stroke="#d95319" stroke-width="2.0"/>
<circle cx="202.73" cy="413.02" r="5.85" fill="none" stroke="#d95319" stroke-width="2.0"/>
<circle cx="209.42" cy="423.47" r="5.85" fill="none" stroke="#d95319" stroke-width="2.0"/>
<circle cx="216.10" cy="432.88" r="5.85" fill="none" stroke="#d95319" stroke-width="2.0"/>
<circle cx="222.78" cy="441.76" r="5.85" fill="none" stroke="#d95319" stroke-width="2.0"/>
<circle cx="229.46" cy="448.55" r="5.85" fill="none" stroke="#d95319" stroke-width="2.0"/>
<circle cx="236.14" cy="452.21" r="5.85" fill="none" stroke="#d95319" stroke-width="2.0"/>
<circle cx="242.82" cy="454.56" r="5.85" fill="none" stroke="#d95319" stroke-width="2.0"/>
<circle cx="249.51" cy="456.13" r="5.85" fill="none" stroke="#d95319" stroke-width="2.0"/>
<path d="M49.06,449.99L55.66,461.42L42.46,461.42Z" fill="none" stroke="#edb120" stroke-width="2.0" stroke-linejoin="miter"/>
<path d="M55.74,449.47L62.34,460.90L49.14,460.90Z" fill="none" stroke="#edb120" stroke-width="2.0" stroke-linejoin="miter"/>
<path d="M62.42,448.69L69.02,460.12L55.82,460.12Z" fill="none" stroke="#edb120" stroke-width="2.0" stroke-linejoin="miter"/>
<path d="M69.10,447.17L75.70,458.60L62.50,458.60Z" fill="none" stroke="#edb120" stroke-width="2.0" stroke-linejoin="miter"/>
<path d="M75.78,444.98L82.38,456.41L69.18,456.41Z" fill="none" stroke="#edb120" stroke-width="2.0" stroke-linejoin="miter"/>
<path d="M82.47,441.95L89.07,453.38L75.87,453.38Z" fill="none" stroke="#edb120" stroke-width="2.0" stroke-linejoin="miter"/>
<path d="M89.15,437.77L95.75,449.20L82.55,449.20Z" fill="none" stroke="#edb120" stroke-width="2.0" stroke-linejoin="miter"/>
<path d="M95.83,432.54L102.43,443.97L89.23,443.97Z" fill="none" stroke="#edb120" stroke-width="2.0" stroke-linejoin="miter"/>
<path d="M102.51,426.95L109.11,438.38L95.91,438.38Z" fill="none" stroke="#edb120" stroke-width="2.0" stroke-linejoin="miter"/>
<path d="M109.19,418.54L115.79,429.97L102.59,429.97Z" fill="none" stroke="#edb120" stroke-width="2.0" stroke-linejoin="miter"/>
<path d="M115.87,403.65L122.47,415.08L109.27,415.08Z" fill="none" stroke="#edb120" stroke-width="2.0" stroke-linejoin="miter"/>
<path d="M122.55,388.50L129.15,399.93L115.95,399.93Z" fill="none" stroke="#edb120" stroke-width="2.0" stroke-linejoin="miter"/>
<path d="M129.24,370.73L135.84,382.17L122.64,382.17Z" fill="none" stroke="#edb120" stroke-width="2.0" stroke-linejoin="miter"/>
<path d="M135.92,348.79L142.52,360.22L129.32,360.22Z" fill="none" stroke="#edb120" stroke-width="2.0" stroke-linejoin="miter"/>
<path d="M142.60,321.62L149.20,333.05L136.00,333.05Z" fill="none" stroke="#edb120" stroke-width="2.0" stroke-linejoin="miter"/>
<path d="M149.28,288.71L155.88,300.14L142.68,300.14Z" fill="none" stroke="#edb120" stroke-width="2.0" stroke-linejoin="miter"/>
<path d="M155.96,288.71L162.56,300.14L149.36,300.14Z" fill="none" stroke="#edb120" stroke-width="2.0" stroke-linejoin="miter"/>
<path d="M162.64,315.20L169.24,326.63L156.04,326.63Z" fill="none" stroke="#edb120" stroke-width="2.0" stroke-linejoin="miter"/>
<path d="M169.33,336.20L175.93,347.63L162.73,347.63Z" fill="none" stroke="#edb120" stroke-width="2.0" stroke-linejoin="miter"/>
<path d="M176.01,354.75L182.61,366.18L169.41,366.18Z" fill="none" stroke="#edb120" stroke-width="2.0" stroke-linejoin="miter"/>
<path d="M182.69,371.57L189.29,383.00L176.09,383.00Z" fill="none" stroke="#edb120" stroke-width="2.0" stroke-linejoin="miter"/>
<path d="M189.37,385.73L195.97,397.16L182.77,397.16Z" fill="none" stroke="#edb120" stroke-width="2.0" stroke-linejoin="miter"/>
<path d="M196.05,397.38L202.65,408.81L189.45,408.81Z" fill="none" stroke="#edb120" stroke-width="2.0" stroke-linejoin="miter"/>
<path d="M202.73,409.66L209.33,421.09L196.13,421.09Z" fill="none" stroke="#edb120" stroke-width="2.0" stroke-linejoin="miter"/>
<path d="M209.42,418.80L216.02,430.23L202.82,430.23Z" fill="none" stroke="#edb120" stroke-width="2.0" stroke-linejoin="miter"/>
<path d="M216.10,425.59L222.70,437.02L209.50,437.02Z" fill="none" stroke="#edb120" stroke-width="2.0" stroke-linejoin="miter"/>
<path d="M222.78,431.34L229.38,442.77L216.18,442.77Z" fill="none" stroke="#edb120" stroke-width="2.0" stroke-linejoin="miter"/>
<path d="M229.46,436.46L236.06,447.89L222.86,447.89Z" fill="none" stroke="#edb120" stroke-width="2.0" stroke-linejoin="miter"/>
<path d="M236.14,440.33L242.74,451.76L229.54,451.76Z" fill="none" stroke="#edb120" stroke-width="2.0" stroke-linejoin="miter"/>
<path d="M242.82,443.15L249.42,454.58L236.22,454.58Z" fill="none" stroke="#edb120" stroke-width="2.0" stroke-linejoin="miter"/>
<path d="M249.51,445.29L256.11,456.72L242.91,456.72Z" fill="none" stroke="#edb120" stroke-width="2.0" stroke-linejoin="miter"/>
<text x="47.70" y="477.20" font-size="16" text-anchor="middle">-5</text>
<text x="152.10" y="477.20" font-size="16" text-anchor="middle">0</text>
<text x="256.50" y="477.20" font-size="16" text-anchor="middle">5</text>
<text x="43.20" y="463.50" font-size="16" text-anchor="end">0</text>
<text x="43.20" y="411.25" font-size="16" text-anchor="end">0.1</text>
<text x="43.20" y="359.01" font-size="16" text-anchor="end">0.2</text>
<text x="43.20" y="306.76" font-size="16" text-anchor="end">0.3</text>
<text x="143.90" y="499.00" font-size="19"><tspan font-style="italic">S</tspan><tspan font-size="14" dx="0.4" dy="3">2</tspan></text>
<text transform="translate(13.40,373.00) rotate(-90)" font-size="17.5"><tspan font-style="italic">p</tspan><tspan font-style="italic" font-size="14.5" dy="2.5">S</tspan><tspan font-size="9.5" dx="0.2" dy="2.3">2</tspan></text>
<line x1="436.80" y1="266.0" x2="436.80" y2="459.0" stroke="#dfdfdf" stroke-width="1"/>
<line x1="332.3" y1="406.75" x2="541.3" y2="406.75" stroke="#dfdfdf" stroke-width="1"/>
<line x1="332.3" y1="354.51" x2="541.3" y2="354.51" stroke="#dfdfdf" stroke-width="1"/>
<line x1="332.3" y1="302.26" x2="541.3" y2="302.26" stroke="#dfdfdf" stroke-width="1"/>
<line x1="332.30" y1="459.0" x2="332.30" y2="456.9" stroke="#262626" stroke-width="1"/>
<line x1="332.30" y1="266.0" x2="332.30" y2="268.1" stroke="#262626" stroke-width="1"/>
<line x1="436.80" y1="459.0" x2="436.80" y2="456.9" stroke="#262626" stroke-width="1"/>
<line x1="436.80" y1="266.0" x2="436.80" y2="268.1" stroke="#262626" stroke-width="1"/>
<line x1="541.30" y1="459.0" x2="541.30" y2="456.9" stroke="#262626" stroke-width="1"/>
<line x1="541.30" y1="266.0" x2="541.30" y2="268.1" stroke="#262626" stroke-width="1"/>
<line x1="332.3" y1="459.00" x2="334.40000000000003" y2="459.00" stroke="#262626" stroke-width="1"/>
<line x1="541.3" y1="459.00" x2="539.1999999999999" y2="459.00" stroke="#262626" stroke-width="1"/>
<line x1="332.3" y1="406.75" x2="334.40000000000003" y2="406.75" stroke="#262626" stroke-width="1"/>
<line x1="541.3" y1="406.75" x2="539.1999999999999" y2="406.75" stroke="#262626" stroke-width="1"/>
<line x1="332.3" y1="354.51" x2="334.40000000000003" y2="354.51" stroke="#262626" stroke-width="1"/>
<line x1="541.3" y1="354.51" x2="539.1999999999999" y2="354.51" stroke="#262626" stroke-width="1"/>
<line x1="332.3" y1="302.26" x2="334.40000000000003" y2="302.26" stroke="#262626" stroke-width="1"/>
<line x1="541.3" y1="302.26" x2="539.1999999999999" y2="302.26" stroke="#262626" stroke-width="1"/>
<rect x="332.3" y="266.0" width="209.00" height="193.00" fill="none" stroke="#262626" stroke-width="1"/>
<path d="M332.30,453.25L332.82,453.05L333.35,452.85L333.87,452.65L334.40,452.44L334.92,452.24L335.44,452.04L335.97,451.83L336.49,451.63L337.01,451.42L337.54,451.22L338.06,451.01L338.59,450.81L339.11,450.60L339.63,450.40L340.16,450.19L340.68,449.99L341.20,449.79L341.73,449.59L342.25,449.40L342.78,449.21L343.30,449.01L343.82,448.82L344.35,448.62L344.87,448.42L345.40,448.21L345.92,447.99L346.44,447.77L346.97,447.54L347.49,447.29L348.01,447.04L348.54,446.78L349.06,446.52L349.59,446.24L350.11,445.96L350.63,445.67L351.16,445.37L351.68,445.07L352.20,444.76L352.73,444.45L353.25,444.14L353.78,443.82L354.30,443.49L354.82,443.15L355.35,442.80L355.87,442.44L356.40,442.08L356.92,441.71L357.44,441.33L357.97,440.95L358.49,440.57L359.01,440.18L359.54,439.79L360.06,439.40L360.59,439.02L361.11,438.63L361.63,438.25L362.16,437.87L362.68,437.49L363.20,437.11L363.73,436.72L364.25,436.32L364.78,435.91L365.30,435.49L365.82,435.06L366.35,434.60L366.87,434.13L367.40,433.64L367.92,433.12L368.44,432.58L368.97,432.01L369.49,431.43L370.01,430.82L370.54,430.20L371.06,429.56L371.59,428.91L372.11,428.25L372.63,427.58L373.16,426.91L373.68,426.22L374.20,425.53L374.73,424.83L375.25,424.12L375.78,423.39L376.30,422.65L376.82,421.90L377.35,421.13L377.87,420.34L378.40,419.54L378.92,418.71L379.44,417.87L379.97,417.01L380.49,416.13L381.01,415.22L381.54,414.26L382.06,413.27L382.59,412.25L383.11,411.20L383.63,410.14L384.16,409.06L384.68,407.97L385.20,406.87L385.73,405.78L386.25,404.69L386.78,403.62L387.30,402.56L387.82,401.50L388.35,400.44L388.87,399.38L389.40,398.31L389.92,397.24L390.44,396.17L390.97,395.10L391.49,394.04L392.01,392.97L392.54,391.90L393.06,390.84L393.59,389.78L394.11,388.73L394.63,387.68L395.16,386.64L395.68,385.61L396.20,384.58L396.73,383.54L397.25,382.51L397.78,381.48L398.30,380.44L398.82,379.40L399.35,378.35L399.87,377.29L400.40,376.22L400.92,375.14L401.44,374.06L401.97,372.96L402.49,371.86L403.01,370.76L403.54,369.65L404.06,368.53L404.59,367.41L405.11,366.29L405.63,365.16L406.16,364.03L406.68,362.90L407.20,361.76L407.73,360.62L408.25,359.48L408.78,358.32L409.30,357.16L409.82,355.99L410.35,354.82L410.87,353.66L411.40,352.49L411.92,351.32L412.44,350.16L412.97,349.00L413.49,347.85L414.01,346.71L414.54,345.58L415.06,344.45L415.59,343.32L416.11,342.19L416.63,341.07L417.16,339.95L417.68,338.84L418.20,337.72L418.73,336.61L419.25,335.51L419.78,334.40L420.30,333.30L420.82,332.20L421.35,331.12L421.87,330.04L422.40,328.97L422.92,327.90L423.44,326.84L423.97,325.77L424.49,324.71L425.01,323.64L425.54,322.56L426.06,321.47L426.59,320.37L427.11,319.26L427.63,318.13L428.16,316.94L428.68,315.72L429.20,314.47L429.73,313.21L430.25,311.95L430.78,310.69L431.30,309.45L431.82,308.25L432.35,307.09L432.87,305.98L433.40,304.94L433.92,303.98L434.44,302.99L434.97,301.99L435.49,301.32L436.01,301.27L436.54,301.66L437.06,302.40L437.59,303.41L438.11,304.65L438.63,306.04L439.16,307.53L439.68,309.06L440.20,310.56L440.73,311.98L441.25,313.44L441.78,315.01L442.30,316.69L442.82,318.46L443.35,320.29L443.87,322.18L444.40,324.10L444.92,326.04L445.44,327.98L445.97,329.90L446.49,331.80L447.01,333.64L447.54,335.43L448.06,337.19L448.59,338.94L449.11,340.69L449.63,342.43L450.16,344.17L450.68,345.90L451.20,347.64L451.73,349.37L452.25,351.09L452.78,352.82L453.30,354.56L453.82,356.29L454.35,358.03L454.87,359.77L455.40,361.51L455.92,363.26L456.44,365.01L456.97,366.76L457.49,368.50L458.01,370.24L458.54,371.98L459.06,373.71L459.59,375.43L460.11,377.15L460.63,378.85L461.16,380.55L461.68,382.25L462.20,383.95L462.73,385.65L463.25,387.35L463.78,389.03L464.30,390.71L464.82,392.38L465.35,394.03L465.87,395.67L466.40,397.28L466.92,398.88L467.44,400.45L467.97,402.02L468.49,403.58L469.01,405.14L469.54,406.70L470.06,408.24L470.59,409.76L471.11,411.27L471.63,412.74L472.16,414.18L472.68,415.59L473.20,416.95L473.73,418.27L474.25,419.54L474.78,420.77L475.30,421.97L475.82,423.15L476.35,424.31L476.87,425.43L477.40,426.54L477.92,427.61L478.44,428.67L478.97,429.70L479.49,430.71L480.01,431.70L480.54,432.67L481.06,433.62L481.59,434.56L482.11,435.48L482.63,436.40L483.16,437.29L483.68,438.17L484.20,439.03L484.73,439.87L485.25,440.68L485.78,441.47L486.30,442.23L486.82,442.97L487.35,443.67L487.87,444.36L488.40,445.07L488.92,445.78L489.44,446.49L489.97,447.19L490.49,447.87L491.01,448.51L491.54,449.12L492.06,449.67L492.59,450.16L493.11,450.58L493.63,450.91L494.16,451.16L494.68,451.35L495.20,451.54L495.73,451.72L496.25,451.90L496.78,452.08L497.30,452.26L497.82,452.44L498.35,452.61L498.87,452.78L499.40,452.95L499.92,453.11L500.44,453.28L500.97,453.44L501.49,453.59L502.01,453.75L502.54,453.90L503.06,454.05L503.59,454.20L504.11,454.35L504.63,454.49L505.16,454.63L505.68,454.77L506.20,454.91L506.73,455.04L507.25,455.17L507.78,455.30L508.30,455.43L508.82,455.55L509.35,455.67L509.87,455.79L510.40,455.91L510.92,456.03L511.44,456.14L511.97,456.25L512.49,456.36L513.01,456.46L513.54,456.57L514.06,456.67L514.59,456.77L515.11,456.86L515.63,456.96L516.16,457.05L516.68,457.14L517.20,457.23L517.73,457.31L518.25,457.40L518.78,457.48L519.30,457.56L519.82,457.63L520.35,457.71L520.87,457.78L521.40,457.85L521.92,457.92L522.44,457.98L522.97,458.05L523.49,458.11L524.01,458.17L524.54,458.23L525.06,458.28L525.59,458.33L526.11,458.39L526.63,458.43L527.16,458.48L527.68,458.53L528.20,458.57L528.73,458.61L529.25,458.65L529.78,458.68L530.30,458.72L530.82,458.75L531.35,458.78L531.87,458.81L532.40,458.84L532.92,458.86L533.44,458.88L533.97,458.90L534.49,458.92L535.01,458.94L535.54,458.95L536.06,458.97L536.59,458.98L537.11,458.98L537.63,458.99L538.16,459.00L538.68,459.00L539.20,459.00L539.73,459.00L540.25,459.00L540.78,459.00L541.30,459.00" fill="none" stroke="#0072bd" stroke-width="2" stroke-linejoin="round"/>
<circle cx="333.66" cy="452.73" r="5.85" fill="none" stroke="#d95319" stroke-width="2.0"/>
<circle cx="340.35" cy="450.12" r="5.85" fill="none" stroke="#d95319" stroke-width="2.0"/>
<circle cx="347.03" cy="447.51" r="5.85" fill="none" stroke="#d95319" stroke-width="2.0"/>
<circle cx="353.72" cy="443.85" r="5.85" fill="none" stroke="#d95319" stroke-width="2.0"/>
<circle cx="360.41" cy="439.15" r="5.85" fill="none" stroke="#d95319" stroke-width="2.0"/>
<circle cx="367.10" cy="433.92" r="5.85" fill="none" stroke="#d95319" stroke-width="2.0"/>
<circle cx="373.79" cy="426.08" r="5.85" fill="none" stroke="#d95319" stroke-width="2.0"/>
<circle cx="380.47" cy="416.16" r="5.85" fill="none" stroke="#d95319" stroke-width="2.0"/>
<circle cx="387.16" cy="402.83" r="5.85" fill="none" stroke="#d95319" stroke-width="2.0"/>
<circle cx="393.85" cy="389.25" r="5.85" fill="none" stroke="#d95319" stroke-width="2.0"/>
<circle cx="400.54" cy="375.93" r="5.85" fill="none" stroke="#d95319" stroke-width="2.0"/>
<circle cx="407.23" cy="361.72" r="5.85" fill="none" stroke="#d95319" stroke-width="2.0"/>
<circle cx="413.91" cy="346.93" r="5.85" fill="none" stroke="#d95319" stroke-width="2.0"/>
<circle cx="420.60" cy="332.67" r="5.85" fill="none" stroke="#d95319" stroke-width="2.0"/>
<circle cx="427.29" cy="318.87" r="5.85" fill="none" stroke="#d95319" stroke-width="2.0"/>
<circle cx="433.98" cy="303.88" r="5.85" fill="none" stroke="#d95319" stroke-width="2.0"/>
<circle cx="440.67" cy="311.82" r="5.85" fill="none" stroke="#d95319" stroke-width="2.0"/>
<circle cx="447.35" cy="334.81" r="5.85" fill="none" stroke="#d95319" stroke-width="2.0"/>
<circle cx="454.04" cy="357.01" r="5.85" fill="none" stroke="#d95319" stroke-width="2.0"/>
<circle cx="460.73" cy="379.17" r="5.85" fill="none" stroke="#d95319" stroke-width="2.0"/>
<circle cx="467.42" cy="400.38" r="5.85" fill="none" stroke="#d95319" stroke-width="2.0"/>
<circle cx="474.11" cy="419.19" r="5.85" fill="none" stroke="#d95319" stroke-width="2.0"/>
<circle cx="480.79" cy="433.14" r="5.85" fill="none" stroke="#d95319" stroke-width="2.0"/>
<circle cx="487.48" cy="443.85" r="5.85" fill="none" stroke="#d95319" stroke-width="2.0"/>
<circle cx="494.17" cy="451.16" r="5.85" fill="none" stroke="#d95319" stroke-width="2.0"/>
<circle cx="500.86" cy="455.45" r="5.85" fill="none" stroke="#d95319" stroke-width="2.0"/>
<circle cx="507.55" cy="457.96" r="5.85" fill="none" stroke="#d95319" stroke-width="2.0"/>
<circle cx="514.23" cy="459.00" r="5.85" fill="none" stroke="#d95319" stroke-width="2.0"/>
<circle cx="520.92" cy="459.00" r="5.85" fill="none" stroke="#d95319" stroke-width="2.0"/>
<circle cx="527.61" cy="459.00" r="5.85" fill="none" stroke="#d95319" stroke-width="2.0"/>
<circle cx="534.30" cy="459.00" r="5.85" fill="none" stroke="#d95319" stroke-width="2.0"/>
<path d="M333.66,444.40L340.26,455.83L327.06,455.83Z" fill="none" stroke="#edb120" stroke-width="2.0" stroke-linejoin="miter"/>
<path d="M340.35,441.63L346.95,453.06L333.75,453.06Z" fill="none" stroke="#edb120" stroke-width="2.0" stroke-linejoin="miter"/>
<path d="M347.03,438.92L353.63,450.35L340.43,450.35Z" fill="none" stroke="#edb120" stroke-width="2.0" stroke-linejoin="miter"/>
<path d="M353.72,435.10L360.32,446.53L347.12,446.53Z" fill="none" stroke="#edb120" stroke-width="2.0" stroke-linejoin="miter"/>
<path d="M360.41,430.19L367.01,441.62L353.81,441.62Z" fill="none" stroke="#edb120" stroke-width="2.0" stroke-linejoin="miter"/>
<path d="M367.10,425.28L373.70,436.71L360.50,436.71Z" fill="none" stroke="#edb120" stroke-width="2.0" stroke-linejoin="miter"/>
<path d="M373.79,418.80L380.39,430.23L367.19,430.23Z" fill="none" stroke="#edb120" stroke-width="2.0" stroke-linejoin="miter"/>
<path d="M380.47,409.40L387.07,420.83L373.87,420.83Z" fill="none" stroke="#edb120" stroke-width="2.0" stroke-linejoin="miter"/>
<path d="M387.16,397.90L393.76,409.33L380.56,409.33Z" fill="none" stroke="#edb120" stroke-width="2.0" stroke-linejoin="miter"/>
<path d="M393.85,387.09L400.45,398.52L387.25,398.52Z" fill="none" stroke="#edb120" stroke-width="2.0" stroke-linejoin="miter"/>
<path d="M400.54,374.55L407.14,385.98L393.94,385.98Z" fill="none" stroke="#edb120" stroke-width="2.0" stroke-linejoin="miter"/>
<path d="M407.23,360.34L413.83,371.77L400.63,371.77Z" fill="none" stroke="#edb120" stroke-width="2.0" stroke-linejoin="miter"/>
<path d="M413.91,344.51L420.51,355.94L407.31,355.94Z" fill="none" stroke="#edb120" stroke-width="2.0" stroke-linejoin="miter"/>
<path d="M420.60,327.42L427.20,338.85L414.00,338.85Z" fill="none" stroke="#edb120" stroke-width="2.0" stroke-linejoin="miter"/>
<path d="M427.29,308.30L433.89,319.73L420.69,319.73Z" fill="none" stroke="#edb120" stroke-width="2.0" stroke-linejoin="miter"/>
<path d="M433.98,286.20L440.58,297.63L427.38,297.63Z" fill="none" stroke="#edb120" stroke-width="2.0" stroke-linejoin="miter"/>
<path d="M440.67,301.25L447.27,312.68L434.07,312.68Z" fill="none" stroke="#edb120" stroke-width="2.0" stroke-linejoin="miter"/>
<path d="M447.35,333.95L453.95,345.38L440.75,345.38Z" fill="none" stroke="#edb120" stroke-width="2.0" stroke-linejoin="miter"/>
<path d="M454.04,361.49L460.64,372.92L447.44,372.92Z" fill="none" stroke="#edb120" stroke-width="2.0" stroke-linejoin="miter"/>
<path d="M460.73,383.59L467.33,395.02L454.13,395.02Z" fill="none" stroke="#edb120" stroke-width="2.0" stroke-linejoin="miter"/>
<path d="M467.42,400.52L474.02,411.95L460.82,411.95Z" fill="none" stroke="#edb120" stroke-width="2.0" stroke-linejoin="miter"/>
<path d="M474.11,413.58L480.71,425.01L467.51,425.01Z" fill="none" stroke="#edb120" stroke-width="2.0" stroke-linejoin="miter"/>
<path d="M480.79,424.55L487.39,435.98L474.19,435.98Z" fill="none" stroke="#edb120" stroke-width="2.0" stroke-linejoin="miter"/>
<path d="M487.48,431.86L494.08,443.29L480.88,443.29Z" fill="none" stroke="#edb120" stroke-width="2.0" stroke-linejoin="miter"/>
<path d="M494.17,437.09L500.77,448.52L487.57,448.52Z" fill="none" stroke="#edb120" stroke-width="2.0" stroke-linejoin="miter"/>
<path d="M500.86,442.05L507.46,453.48L494.26,453.48Z" fill="none" stroke="#edb120" stroke-width="2.0" stroke-linejoin="miter"/>
<path d="M507.55,444.92L514.15,456.36L500.95,456.36Z" fill="none" stroke="#edb120" stroke-width="2.0" stroke-linejoin="miter"/>
<path d="M514.23,447.28L520.83,458.71L507.63,458.71Z" fill="none" stroke="#edb120" stroke-width="2.0" stroke-linejoin="miter"/>
<path d="M520.92,449.00L527.52,460.43L514.32,460.43Z" fill="none" stroke="#edb120" stroke-width="2.0" stroke-linejoin="miter"/>
<path d="M527.61,450.15L534.21,461.58L521.01,461.58Z" fill="none" stroke="#edb120" stroke-width="2.0" stroke-linejoin="miter"/>
<path d="M534.30,450.78L540.90,462.21L527.70,462.21Z" fill="none" stroke="#edb120" stroke-width="2.0" stroke-linejoin="miter"/>
<text x="332.30" y="477.20" font-size="16" text-anchor="middle">-5</text>
<text x="436.80" y="477.20" font-size="16" text-anchor="middle">0</text>
<text x="541.30" y="477.20" font-size="16" text-anchor="middle">5</text>
<text x="327.80" y="463.50" font-size="16" text-anchor="end">0</text>
<text x="327.80" y="411.25" font-size="16" text-anchor="end">0.1</text>
<text x="327.80" y="359.01" font-size="16" text-anchor="end">0.2</text>
<text x="327.80" y="306.76" font-size="16" text-anchor="end">0.3</text>
<text x="428.60" y="499.00" font-size="19"><tspan font-style="italic">S</tspan><tspan font-size="14" dx="0.4" dy="3">3</tspan></text>
<text transform="translate(298.00,373.00) rotate(-90)" font-size="17.5"><tspan font-style="italic">p</tspan><tspan font-style="italic" font-size="14.5" dy="2.5">S</tspan><tspan font-size="9.5" dx="0.2" dy="2.3">3</tspan></text>
<rect x="213" y="15.5" width="38" height="34.5" fill="#fff"/>
<text x="221.3" y="38.2" font-size="17.5"><tspan font-size="20.5" dy="0.8">(</tspan><tspan dy="-0.8">a</tspan><tspan font-size="20.5" dy="0.8">)</tspan></text>
<rect x="339" y="15.5" width="37.5" height="34.5" fill="#fff"/>
<text x="346.6" y="38.2" font-size="17.5"><tspan font-size="20.5" dy="0.8">(</tspan><tspan dy="-0.8">b</tspan><tspan font-size="20.5" dy="0.8">)</tspan></text>
<rect x="54" y="274" width="35.5" height="34.5" fill="#fff"/>
<text x="62" y="296" font-size="17.5"><tspan font-size="20.5" dy="0.8">(</tspan><tspan dy="-0.8">c</tspan><tspan font-size="20.5" dy="0.8">)</tspan></text>
<rect x="496" y="273" width="38.39999999999998" height="34.5" fill="#fff"/>
<text x="504.1" y="295" font-size="17.5"><tspan font-size="20.5" dy="0.8">(</tspan><tspan dy="-0.8">d</tspan><tspan font-size="20.5" dy="0.8">)</tspan></text>
<rect x="224" y="227.5" width="125.5" height="59.5" fill="#fff" stroke="#262626" stroke-width="1"/>
<line x1="229" y1="239.2" x2="287" y2="239.2" stroke="#0072bd" stroke-width="2"/>
<circle cx="258.2" cy="257.4" r="5.85" fill="none" stroke="#d95319" stroke-width="2.0"/>
<path d="M258.10,267.48L264.70,278.92L251.50,278.92Z" fill="none" stroke="#edb120" stroke-width="2.0"/>
<text x="291.5" y="243.2" font-size="15.5">Theory</text>
<text x="291.5" y="261.2" font-size="15.5">RS</text>
<text x="291.5" y="278.7" font-size="15.5">NORTA</text></svg>
</body></html>
